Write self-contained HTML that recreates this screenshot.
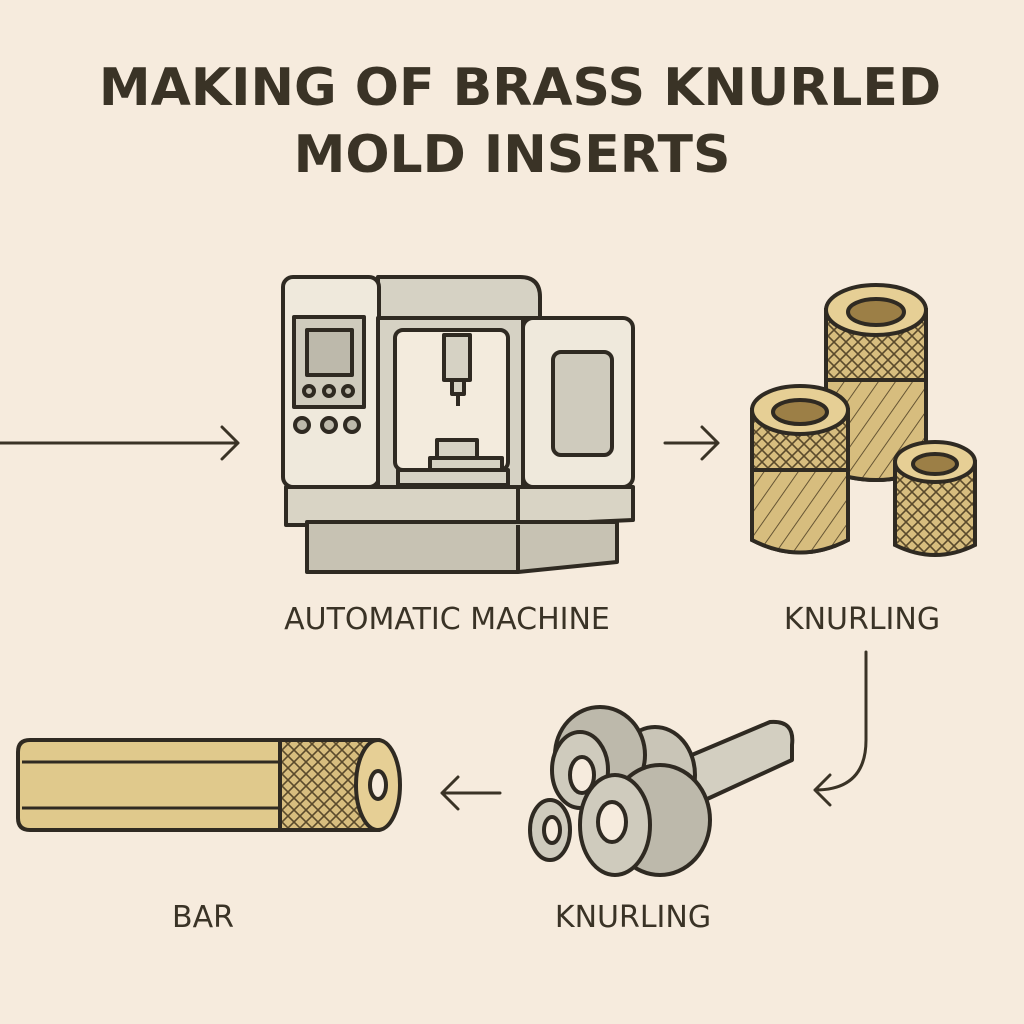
<!DOCTYPE html><html><head><style>body{margin:0;background:#f6ebdd}svg{display:block}</style></head><body>
<svg width="1024" height="1024" viewBox="0 0 1024 1024" xmlns="http://www.w3.org/2000/svg">
<defs>
<pattern id="kn" width="12" height="12" patternUnits="userSpaceOnUse"><rect width="12" height="12" fill="#d7bd7e"/><path d="M0 0L12 12M12 0L0 12" stroke="#5a4a2c" stroke-width="1.6"/></pattern>
<pattern id="ds" width="14" height="14" patternUnits="userSpaceOnUse" patternTransform="rotate(35)"><rect width="14" height="14" fill="#d7bd7e"/><path d="M0 0V14" stroke="#5a4a2c" stroke-width="1.8"/></pattern>
</defs>
<rect width="1024" height="1024" fill="#f6ebdd"/>
<g font-family="'DejaVu Sans','Liberation Sans',sans-serif" font-weight="bold" fill="#3a3326" text-anchor="middle">
<text x="520" y="105" font-size="52">MAKING OF BRASS KNURLED</text>
<text x="512" y="172" font-size="52">MOLD INSERTS</text>
<text x="447" y="629" font-size="30" font-weight="normal">AUTOMATIC MACHINE</text>
<text x="862" y="629" font-size="30" font-weight="normal">KNURLING</text>
<text x="633" y="927" font-size="30" font-weight="normal">KNURLING</text>
<text x="203" y="927" font-size="30" font-weight="normal">BAR</text>
</g>
<g stroke="#3a3326" stroke-width="3" fill="none" stroke-linecap="round" stroke-linejoin="round">
<path d="M0 443H238M222 427L238 443L222 459"/>
<path d="M665 443H718M702 427L718 443L702 459"/>
<path d="M866 652V740Q866 790 815 790M830 775L815 790L830 805"/>
<path d="M500 793H442M458 777L442 793L458 809"/>
</g>
<!-- machine -->
<g stroke="#2f2a22" stroke-width="4" stroke-linejoin="round">
<path d="M378 277H520Q540 277 540 297V318H378Z" fill="#d6d2c4"/>
<rect x="283" y="277" width="96" height="210" rx="10" fill="#efe9dc"/>
<rect x="378" y="318" width="145" height="169" fill="#d6d2c4"/>
<rect x="395" y="330" width="113" height="140" rx="8" fill="#f3ebdd"/>
<rect x="523" y="318" width="110" height="169" rx="10" fill="#efe9dc"/>
<rect x="553" y="352" width="59" height="103" rx="8" fill="#cfcbbd"/>
<rect x="294" y="317" width="70" height="90" fill="#cfcbbd"/>
<rect x="307" y="330" width="45" height="45" fill="#bdb9ab"/>
<circle cx="309" cy="391" r="5" fill="#bdb9ab"/><circle cx="329" cy="391" r="5" fill="#bdb9ab"/><circle cx="348" cy="391" r="5" fill="#bdb9ab"/>
<circle cx="302" cy="425" r="7" fill="#bdb9ab"/><circle cx="329" cy="425" r="7" fill="#bdb9ab"/><circle cx="352" cy="425" r="7" fill="#bdb9ab"/>
<rect x="444" y="335" width="26" height="45" fill="#d6d2c4"/>
<rect x="452" y="380" width="12" height="14" fill="#d6d2c4"/>
<path d="M458 394V406"/>
<rect x="437" y="440" width="40" height="18" fill="#d6d2c4"/>
<rect x="430" y="458" width="72" height="12" fill="#d6d2c4"/>
<rect x="398" y="470" width="110" height="15" fill="#d6d2c4"/>
<path d="M286 487H633V520L520 525H286Z" fill="#d9d4c5"/>
<path d="M518 487V525"/>
<path d="M307 522H617V562L518 572H307Z" fill="#c7c2b3"/>
<path d="M518 525V572"/>
</g>
<!-- inserts -->
<g stroke="#2f2a22" stroke-width="4">
<path d="M826 310V470Q876 490 926 470V310Z" fill="url(#kn)"/>
<path d="M826 380V470Q876 490 926 470V380Z" fill="url(#ds)"/>
<ellipse cx="876" cy="310" rx="50" ry="25" fill="#e6cf95"/>
<ellipse cx="876" cy="312" rx="28" ry="13" fill="#9c7f46"/>
<path d="M752 410V540Q800 565 848 540V410Z" fill="url(#kn)"/>
<path d="M752 470V540Q800 565 848 540V470Z" fill="url(#ds)"/>
<ellipse cx="800" cy="410" rx="48" ry="24" fill="#e6cf95"/>
<ellipse cx="800" cy="412" rx="27" ry="12" fill="#9c7f46"/>
<path d="M895 462V545Q935 565 975 545V462Z" fill="url(#kn)"/>
<ellipse cx="935" cy="462" rx="40" ry="20" fill="#e6cf95"/>
<ellipse cx="935" cy="464" rx="22" ry="10" fill="#9c7f46"/>
</g>
<!-- knurling tool -->
<g stroke="#2f2a22" stroke-width="4" stroke-linejoin="round">
<path d="M680 760L770 722Q795 720 792 745L792 760L705 800Z" fill="#d3cfc1"/>
<ellipse cx="655" cy="775" rx="40" ry="48" fill="#c9c5b7"/>
<ellipse cx="600" cy="755" rx="45" ry="48" fill="#bdb9ab"/>
<ellipse cx="580" cy="770" rx="28" ry="38" fill="#cfcbbd"/>
<ellipse cx="582" cy="775" rx="12" ry="18" fill="#f6ebdd"/>
<ellipse cx="660" cy="820" rx="50" ry="55" fill="#bdb9ab"/>
<ellipse cx="550" cy="830" rx="20" ry="30" fill="#cfcbbd"/>
<ellipse cx="552" cy="830" rx="8" ry="13" fill="#f6ebdd"/>
<ellipse cx="615" cy="825" rx="35" ry="50" fill="#cfcbbd"/>
<ellipse cx="612" cy="822" rx="14" ry="20" fill="#f6ebdd"/>
</g>
<!-- bar -->
<g stroke="#2f2a22" stroke-width="4">
<path d="M30 740H378V830H30Q18 830 18 818V752Q18 740 30 740Z" fill="#e0c98c"/>
<path d="M22 762H280M22 808H280" stroke-width="3"/>
<rect x="280" y="740" width="98" height="90" fill="url(#kn)"/>
<ellipse cx="378" cy="785" rx="22" ry="45" fill="#e6cf95"/>
<ellipse cx="378" cy="785" rx="8" ry="14" fill="#f6ebdd"/>
</g>
</svg>
</body></html>
